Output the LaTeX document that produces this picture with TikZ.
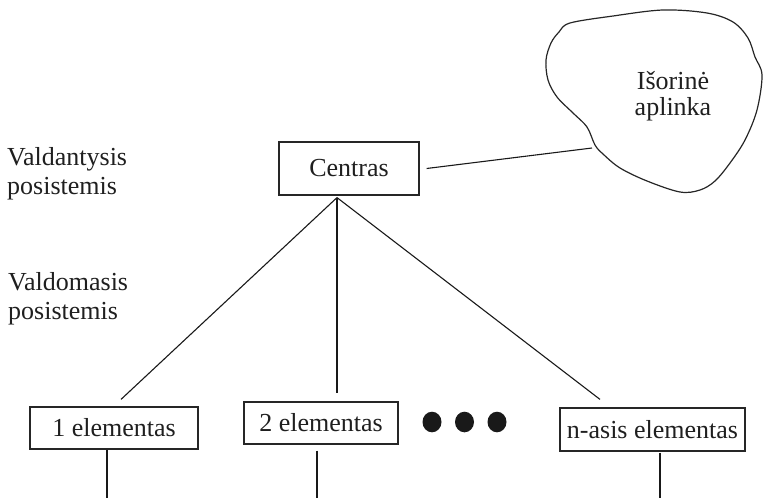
\documentclass[tikz,border=0pt]{standalone}
\usepackage{fontspec}
\setmainfont{Liberation Serif}
\usetikzlibrary{calc}
\begin{document}
\begin{tikzpicture}[x=1pt,y=-1pt,
  ink/.style={draw=black!85, line width=1.2pt},
  wire/.style={draw=black!90, line width=1.1pt},
  label/.style={font=\fontsize{26}{29}\selectfont, text=black!88, inner sep=0pt},
  box/.style={ink, label, minimum height=42pt},
  dot/.style={fill=black!90, draw=none}]
\useasboundingbox (0,0) rectangle (763,498);

% level labels on the left (anchored at the baseline of their last line)
\node[label, align=left, anchor=base west] (ctrl) at (7,194) {Valdantysis\\posistemis};
\node[label, align=left, anchor=base west] (ctrld) at (8,319) {Valdomasis\\posistemis};

% environment cloud
\draw[ink] plot[smooth cycle, tension=0.55] coordinates {
  (570,23) (613,16) (663,10) (707,13) (733,22) (748,38) (755,57) (762,75)
  (757,110) (745,140) (730,163) (715,181) (700,190) (680,192) (647,181)
  (620,168) (603,154) (595,145) (587,127) (573,113) (557,97) (548,80)
  (546,60) (551,43) (559,32)};
\node[label, font=\fontsize{26}{26}\selectfont, align=center, anchor=base] (env) at (673,115) {Išorinė\\aplinka};
\coordinate (envedge) at (592,148);

% control centre
\node[box, minimum width=140pt, minimum height=53pt] (centras) at (349,168.5) {Centras};
\coordinate (apex) at ($(centras.south)+(-12,2)$);

% controlled elements
\node[box, minimum width=168pt] (e1) at (114,428) {1 elementas};
\node[box, minimum width=154pt] (e2) at (321,423) {2 elementas};
\node[box, minimum width=185pt, minimum height=43pt] (en) at (652.5,429.5) {n-asis elementas};

\fill[dot] (432,422) ellipse [x radius=9.5, y radius=10.3];
\fill[dot] (464.5,422) ellipse [x radius=9.5, y radius=10.3];
\fill[dot] (497,422) ellipse [x radius=9.5, y radius=10.3];

% connectors
\draw[wire] ($(centras.east)+(7,0)$) -- (envedge);
\draw[wire] (apex) -- ($(e1.north)+(7,-7)$);
\draw[wire] (apex) -- ($(e2.north)+(16,-8)$);
\draw[wire] (apex) -- ($(en.north)+(-52.5,-8)$);

% outgoing lines below the elements
\coordinate (o1) at (107,498);
\coordinate (o2) at (317,498);
\coordinate (on) at (660,498);
\draw[wire] ($(e1.south)+(-7,0)$) -- (o1);
\draw[wire] ($(e2.south)+(-4,6)$) -- (o2);
\draw[wire] ($(en.south)+(7.5,1)$) -- (on);
\end{tikzpicture}
\end{document}
